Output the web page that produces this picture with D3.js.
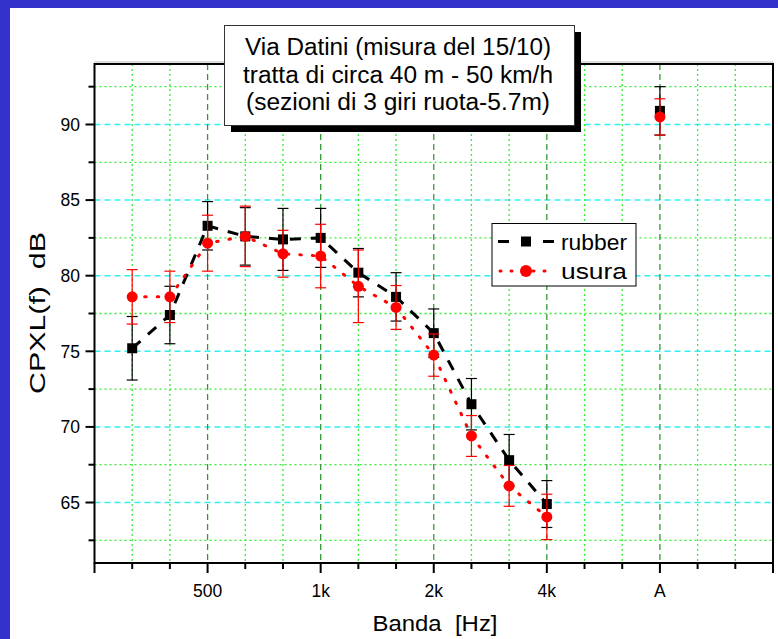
<!DOCTYPE html>
<html>
<head>
<meta charset="utf-8">
<script src="https://cdn.jsdelivr.net/npm/d3@7"></script>
<style>
  html, body { margin: 0; padding: 0; background: #3333cc; }
  svg { display: block; }
  text { font-family: "Liberation Sans", Arial, sans-serif; fill: #000; white-space: pre; }
</style>
</head>
<body>
<svg id="chart" width="778" height="639"></svg>
<script>
// ---- data ----
const slots = ["lo","315","400","500","630","800","1k","1.25k","1.6k","2k","2.5k","3.15k","4k","5k","6.3k","A","a1","a2","hi"];
const bands = ["315","400","500","630","800","1k","1.25k","1.6k","2k","2.5k","3.15k","4k","A"];
const rubber    = [75.2, 77.4, 83.3, 82.6, 82.4, 82.5, 80.2, 78.6, 76.2, 71.5, 67.8, 64.9, 90.9];
const rubberErr = [2.1, 1.9, 1.6, 1.9, 2.05, 1.95, 1.6, 1.6, 1.6, 1.7, 1.7, 1.55, 1.6];
const usura     = [78.6, 78.6, 82.15, 82.6, 81.45, 81.3, 79.3, 77.9, 74.75, 69.4, 66.1, 64.05, 90.5];
const usuraErr  = [1.8, 1.7, 1.85, 2.0, 1.55, 2.1, 2.4, 1.45, 1.4, 1.35, 1.35, 1.5, 1.2];
const xTickLabels = ["500","1k","2k","4k","A"];
const yMajor = [65, 70, 75, 80, 85, 90];
const yMinor = [62.5, 67.5, 72.5, 77.5, 82.5, 87.5, 92.5];
const titleLines = ["Via Datini (misura del 15/10)", "tratta di circa 40 m - 50 km/h", "(sezioni di 3 giri ruota-5.7m)"];
const seriesNames = ["rubber", "usura"];

// ---- layout ----
const svg = d3.select("#chart");
const L = 94.5, R = 773, T = 64, B = 563;

svg.append("rect").attr("x", 10).attr("y", 8).attr("width", 778).attr("height", 639).attr("fill", "#fff");

const x = d3.scalePoint().domain(slots).range([L, R]).padding(0);
const y = d3.scaleLinear().domain([61, 94]).range([B, T]);

const g = svg.append("g");

// grid: horizontal
g.selectAll(".hmin").data(yMinor).enter().append("line")
  .attr("x1", L).attr("x2", R).attr("y1", d => y(d)).attr("y2", d => y(d))
  .attr("stroke", "#33ee33").attr("stroke-width", 1.3).attr("stroke-dasharray", "2,3");
g.selectAll(".hmaj").data(yMajor).enter().append("line")
  .attr("x1", L).attr("x2", R).attr("y1", d => y(d)).attr("y2", d => y(d))
  .attr("stroke", "#33eeee").attr("stroke-width", 1.5).attr("stroke-dasharray", "6,4");
// grid: vertical
const inner = slots.slice(1, -1);
g.selectAll(".vgrid").data(inner).enter().append("line")
  .attr("x1", d => x(d)).attr("x2", d => x(d)).attr("y1", T).attr("y2", B)
  .attr("stroke", d => xTickLabels.includes(d) ? "#339933" : "#33ee33")
  .attr("stroke-width", 1.3)
  .attr("stroke-dasharray", d => xTickLabels.includes(d) ? "6,4" : "2,3");

// frame
g.append("line").attr("x1", L).attr("x2", R).attr("y1", T - 2).attr("y2", T - 2).attr("stroke", "#bbb").attr("stroke-width", 1);
g.append("rect").attr("x", L).attr("y", T).attr("width", R - L).attr("height", B - T)
  .attr("fill", "none").attr("stroke", "#000").attr("stroke-width", 2);

// x ticks
slots.forEach((s, i) => {
  const major = (i % 3 === 0);
  g.append("line").attr("x1", x(s)).attr("x2", x(s)).attr("y1", B).attr("y2", B + (major ? 10 : 6))
    .attr("stroke", "#000").attr("stroke-width", 2);
});
g.selectAll(".xl").data(xTickLabels).enter().append("text")
  .attr("x", d => x(d)).attr("y", 597).attr("text-anchor", "middle")
  .attr("font-size", 17.5).text(d => d);

// y ticks
yMajor.forEach(v => g.append("line").attr("x1", L - 9).attr("x2", L).attr("y1", y(v)).attr("y2", y(v)).attr("stroke", "#000").attr("stroke-width", 2));
yMinor.forEach(v => g.append("line").attr("x1", L - 6).attr("x2", L).attr("y1", y(v)).attr("y2", y(v)).attr("stroke", "#000").attr("stroke-width", 2));
g.selectAll(".yl").data(yMajor).enter().append("text")
  .attr("x", 80).attr("y", d => y(d)).attr("dy", "0.36em").attr("text-anchor", "end")
  .attr("font-size", 17.5).text(d => d);

// axis titles
g.append("text").attr("x", 435).attr("y", 631).attr("text-anchor", "middle")
  .attr("font-size", 22).attr("textLength", 125).attr("lengthAdjust", "spacingAndGlyphs").text("Banda  [Hz]");
g.append("text").attr("transform", "translate(45,313) rotate(-90) scale(1.38,1)").attr("text-anchor", "middle")
  .attr("font-size", 22).text("CPXL(f)  dB");

// series
function drawSeries(vals, errs, color, dash, marker) {
  const pts = bands.map((b, i) => ({b, v: vals[i], e: errs[i]}));
  const linePts = pts.filter(p => p.b !== "A");
  g.append("path").datum(linePts)
    .attr("d", d3.line().x(p => x(p.b)).y(p => y(p.v)))
    .attr("fill", "none").attr("stroke", color).attr("stroke-width", 3)
    .attr("stroke-dasharray", dash).attr("stroke-linecap", marker === "circle" ? "round" : "butt");
  const eb = g.append("g");
  pts.forEach(p => {
    const cx = x(p.b);
    eb.append("line").attr("x1", cx).attr("x2", cx).attr("y1", y(p.v + p.e)).attr("y2", y(p.v - p.e)).attr("stroke", color).attr("stroke-width", 1.2);
    [p.v + p.e, p.v - p.e].forEach(v => eb.append("line").attr("x1", cx - 5.5).attr("x2", cx + 5.5).attr("y1", y(v)).attr("y2", y(v)).attr("stroke", color).attr("stroke-width", 1.2));
  });
  if (marker === "square") {
    g.selectAll(null).data(pts).enter().append("rect")
      .attr("x", p => x(p.b) - 5).attr("y", p => y(p.v) - 5).attr("width", 10).attr("height", 10).attr("fill", color);
  } else {
    g.selectAll(null).data(pts).enter().append("circle")
      .attr("cx", p => x(p.b)).attr("cy", p => y(p.v)).attr("r", 5.5).attr("fill", color);
  }
}
drawSeries(rubber, rubberErr, "#000", "11,10", "square");
drawSeries(usura, usuraErr, "#ff0000", "1.5,11", "circle");

// title box
svg.append("rect").attr("x", 231).attr("y", 32).attr("width", 350).attr("height", 100).attr("fill", "#000");
svg.append("rect").attr("x", 224.5).attr("y", 25.5).attr("width", 350).attr("height", 100).attr("fill", "#fff").attr("stroke", "#333").attr("stroke-width", 1);
const tl = [306, 310, 304];
titleLines.forEach((t, i) => {
  svg.append("text").attr("x", 398).attr("y", 55 + i * 27.5).attr("text-anchor", "middle")
    .attr("font-size", 23).attr("textLength", tl[i]).attr("lengthAdjust", "spacingAndGlyphs").text(t);
});

// legend
const lg = svg.append("g");
lg.append("rect").attr("x", 492).attr("y", 223.5).attr("width", 144).attr("height", 62.5)
  .attr("fill", "#fff").attr("stroke", "#000").attr("stroke-width", 1);
const rows = [241.5, 271];
lg.append("line").attr("x1", 498).attr("x2", 554).attr("y1", rows[0]).attr("y2", rows[0])
  .attr("stroke", "#000").attr("stroke-width", 3).attr("stroke-dasharray", "11,34");
lg.append("rect").attr("x", 521).attr("y", rows[0] - 5).attr("width", 10).attr("height", 10).attr("fill", "#000");
lg.append("line").attr("x1", 500).attr("x2", 554).attr("y1", rows[1]).attr("y2", rows[1])
  .attr("stroke", "#ff0000").attr("stroke-width", 3).attr("stroke-dasharray", "1,10").attr("stroke-linecap", "round");
lg.append("circle").attr("cx", 526).attr("cy", rows[1]).attr("r", 6).attr("fill", "#ff0000");
seriesNames.forEach((n, i) => lg.append("text").attr("x", 561).attr("y", rows[i]).attr("dy", "0.36em")
  .attr("font-size", 22.5).attr("textLength", 66).attr("lengthAdjust", "spacingAndGlyphs").text(n));
</script>
</body>
</html>
